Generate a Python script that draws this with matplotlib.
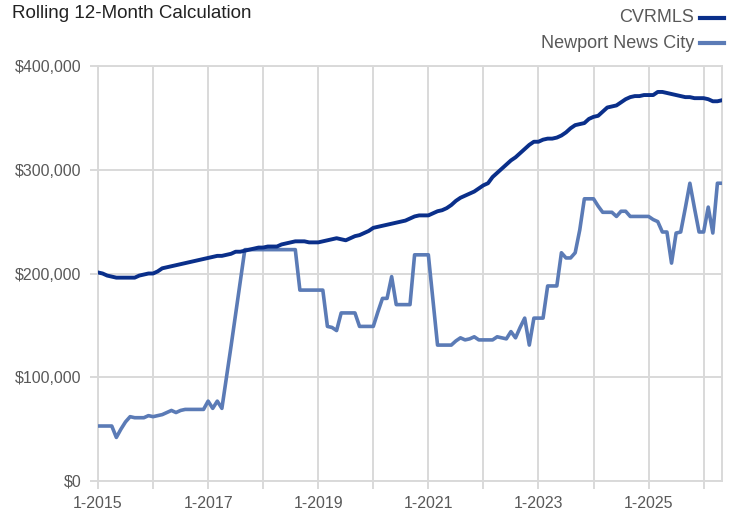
import matplotlib
matplotlib.use("Agg")
import matplotlib.pyplot as plt
from matplotlib.lines import Line2D
from matplotlib.ticker import FuncFormatter
import numpy as np
import pandas as pd

title = "Rolling 12-Month Calculation"
series_names = ["CVRMLS", "Newport News City"]
months = pd.date_range("2015-01-01", periods=137, freq="MS")

cvrmls = [201, 200, 198, 197, 196, 196, 196, 196, 196, 198, 199, 200,
          200, 202, 205, 206, 207, 208, 209, 210, 211, 212, 213, 214,
          215, 216, 217, 217, 218, 219, 221, 221, 222, 223, 224, 225,
          225, 226, 226, 226, 228, 229, 230, 231, 231, 231, 230, 230,
          230, 231, 232, 233, 234, 233, 232, 234, 236, 237, 239, 241,
          244, 245, 246, 247, 248, 249, 250, 251, 253, 255, 256, 256,
          256, 258, 260, 261, 263, 266, 270, 273, 275, 277, 279, 282,
          285, 287, 293, 297, 301, 305, 309, 312, 316, 320, 324, 327,
          327, 329, 330, 330, 331, 333, 336, 340, 343, 344, 345, 349,
          351, 352, 356, 360, 361, 362, 365, 368, 370, 371, 371, 372,
          372, 372, 375, 375, 374, 373, 372, 371, 370, 370, 369, 369,
          369, 368, 366, 366, 367]

newport = [53, 53, 53, 53, 42, 50, 57, 62, 61, 61, 61, 63,
           62, 63, 64, 66, 68, 66, 68, 69, 69, 69, 69, 69,
           77, 70, 77, 70, 100, 130, 161, 192, 223, 223, 223, 223,
           223, 223, 223, 223, 223, 223, 223, 223, 184, 184, 184, 184,
           184, 184, 149, 148, 145, 162, 162, 162, 162, 149, 149, 149,
           149, 163, 176, 176, 197, 170, 170, 170, 170, 218, 218, 218,
           218, 175, 131, 131, 131, 131, 135, 138, 136, 137, 139, 136,
           136, 136, 136, 139, 138, 137, 144, 138, 148, 157, 131, 157,
           157, 157, 188, 188, 188, 220, 215, 215, 220, 242, 272, 272,
           272, 265, 259, 259, 259, 255, 260, 260, 255, 255, 255, 255,
           255, 252, 250, 240, 240, 210, 239, 240, 263, 287, 263, 240,
           240, 264, 239, 287, 287]

y_ticks = [0, 100000, 200000, 300000, 400000]

colors = ["#0a2f8a", "#5b7bb6"]
grid_c = "#d9d9d9"
text_c = "#595959"

plt.rcParams["font.family"] = ["Liberation Sans", "DejaVu Sans"]

fig = plt.figure(figsize=(7.33, 5.15), dpi=100)
ax = fig.add_axes([98 / 733, 1 - 481 / 515, (722 - 98) / 733, (481 - 66) / 515])

x = np.arange(len(months))
ax.plot(x, np.array(newport) * 1000, color=colors[1], lw=2.6, solid_joinstyle="round", zorder=3)
ax.plot(x, np.array(cvrmls) * 1000, color=colors[0], lw=2.8, solid_joinstyle="round", zorder=4)

ax.set_xlim(0, len(months) - 1)
ax.set_ylim(0, 400000)

jan_idx = [i for i, d in enumerate(months) if d.month == 1]
ax.set_xticks(jan_idx)
ax.set_xticklabels([f"{d.month}-{d.year}" if (d.year - 2015) % 2 == 0 else ""
                    for d in months[jan_idx]])
ax.set_yticks(y_ticks)
ax.yaxis.set_major_formatter(FuncFormatter(lambda v, p: f"${int(v):,}"))

ax.grid(True, color=grid_c, lw=1.4)
ax.set_axisbelow(True)
for s in ax.spines.values():
    s.set_color(grid_c)
    s.set_linewidth(1.4)
ax.tick_params(axis="both", colors=grid_c, length=6, width=1.4, labelcolor=text_c, labelsize=11.5)
ax.tick_params(axis="x", pad=5)
ax.tick_params(axis="y", pad=6)

fig.text(12 / 733, 1 - 13 / 515, title, fontsize=13.5, color="#222222", ha="left", va="center")

leg_y = [18, 43]
for name, c, yy in zip(series_names, colors, leg_y):
    fy = 1 - yy / 515
    fig.text(694 / 733, fy, name, fontsize=13, color=text_c, ha="right", va="center")
    fig.add_artist(Line2D([700 / 733, 724 / 733], [fy, fy], color=c, lw=3,
                          transform=fig.transFigure))

fig.savefig("out.png", dpi=100)
